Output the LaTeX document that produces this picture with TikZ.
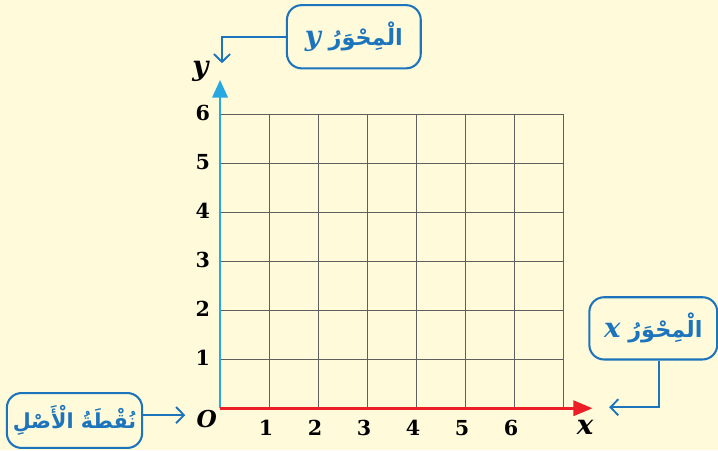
\documentclass[tikz,border=0pt]{standalone}
\usepackage{fontspec}
\usepackage{amsmath}
\usepackage{tikz}
\newfontfamily\arabicfont[Script=Arabic]{DejaVu Sans}
\newfontfamily\latinfont{DejaVu Serif}
\TeXXeTstate=1
\usetikzlibrary{
    arrows.meta,
    positioning
}
\definecolor{paper}{RGB}{255,250,218}
\definecolor{axisblue}{RGB}{40,168,224}
\definecolor{axisred}{RGB}{236,30,38}
\definecolor{callblue}{RGB}{28,117,188}
\definecolor{gridgray}{RGB}{95,95,95}
\newcommand{\axisletter}[1]{{\latinfont\bfseries\itshape\fontsize{16}{18}\selectfont #1}}
\tikzset{
    callout/.style={draw=callblue, line width=1.2pt, rounded corners=0.3cm,
        fill=paper, text=callblue, inner sep=0pt,
        font=\arabicfont\bfseries\fontsize{13}{15}\selectfont},
    pointer/.style={draw=callblue, line width=1.1pt,
        -{Straight Barb[length=1.6mm,width=3.3mm]}},
    ticklabel/.style={font=\latinfont\bfseries\fontsize{12}{14}\selectfont, inner sep=0pt},
    axislabel/.style={font=\latinfont\bfseries\itshape\fontsize{16}{18}\selectfont, inner sep=0pt}
}

\begin{document}
\begin{tikzpicture}[>=Stealth]
    \useasboundingbox[fill=paper] (-4.49,-0.86) rectangle (10.16,8.33);

    \coordinate (O) at (0,0);
    \coordinate (Xend) at (7.6,0);
    \coordinate (Yend) at (0,6.7);

    \draw[gridgray, line width=0.6pt] (O) grid (7,6);
    \draw[axisblue, line width=1.6pt, -{Triangle[length=3.6mm,width=3.1mm]}] (O) -- (Yend);
    \draw[axisred, line width=1.6pt, -{Triangle[length=3.9mm,width=3.1mm]}] (O) -- (Xend);

    \foreach \n in {1,...,6} {
        \node[ticklabel] (xt\n) at (\n-0.06,-0.40) {\n};
        \node[ticklabel] (yt\n) at (-0.35,\n+0.03) {\n};
    }
    \node[axislabel] (xlab) at (7.45,-0.40) {x};
    \node[axislabel] (ylab) at (-0.40,6.87) {y};
    \node[axislabel, font=\latinfont\bfseries\itshape\fontsize{13.5}{15}\selectfont] (olab) at (-0.27,-0.21) {O};

    \node[callout, minimum width=2.73cm, minimum height=1.29cm] (yname) at (2.73,7.58)
        {\beginR الْمِحْوَرُ\ \axisletter{y}\endR};
    \node[callout, minimum width=2.61cm, minimum height=1.27cm] (xname) at (8.84,1.63)
        {\beginR الْمِحْوَرُ\ \axisletter{x}\endR};
    \node[callout, minimum width=2.76cm, minimum height=1.12cm,
        font=\arabicfont\bfseries\fontsize{12}{14}\selectfont] (oname) at (-2.97,-0.25)
        {\beginR نُقْطَةُ الْأَصْلِ\endR};

    \coordinate (ytip) at (0.04,7.04);
    \coordinate (xtip) at (7.94,0.02);
    \coordinate (otip) at (-0.71,-0.14);

    \draw[pointer] (yname.west) -| (ytip);
    \draw[pointer] ([xshift=0.12cm]xname.south) |- (xtip);
    \draw[pointer] (oname.east |- otip) -- (otip);
\end{tikzpicture}
\end{document}
